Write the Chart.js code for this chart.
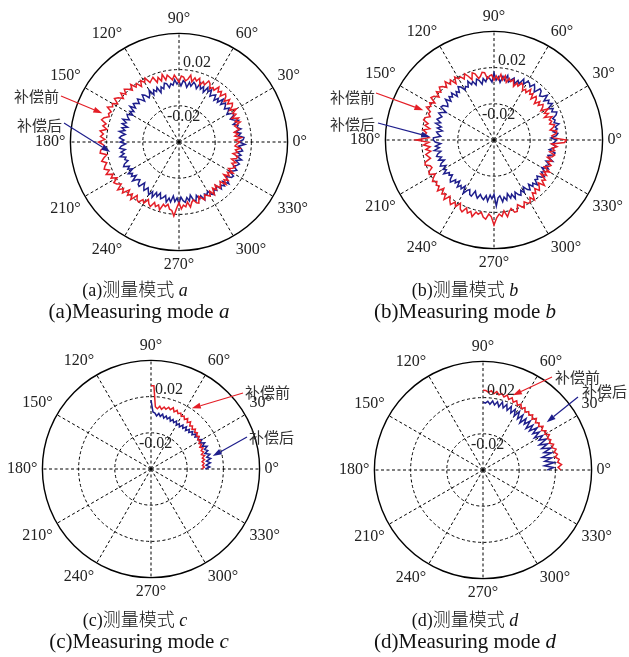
<!DOCTYPE html>
<html>
<head>
<meta charset="utf-8">
<script src="https://cdn.jsdelivr.net/npm/chart.js@4.4.1/dist/chart.umd.min.js"></script>
<style>
  html, body { margin: 0; padding: 0; background: #fff; }
  body { width: 629px; height: 657px; position: relative; overflow: hidden; }
  canvas { position: absolute; }
  .cap { position: absolute; width: 260px; text-align: center; color: #111; white-space: nowrap;
         font-family: "Liberation Serif", "Noto Sans CJK SC", serif; line-height: 1; }
  .zh { font-size: 18px; }
  .en { font-size: 21px; }
  .zh span { font-family: "Noto Sans CJK SC"; font-weight: 300; }
</style>
</head>
<body>
<canvas id="chartA" width="316" height="289" style="left:0px;top:-2px"></canvas>
<canvas id="chartB" width="317" height="289" style="left:314px;top:-4px"></canvas>
<canvas id="chartC" width="315" height="289" style="left:-1px;top:325px"></canvas>
<canvas id="chartD" width="315" height="289" style="left:314px;top:326px"></canvas>

<div class="cap zh" style="left:5px;top:279px">(a)<span>测量模式</span> <i>a</i></div>
<div class="cap en" style="left:9px;top:301px">(a)Measuring mode <i>a</i></div>
<div class="cap zh" style="left:335px;top:279px">(b)<span>测量模式</span> <i>b</i></div>
<div class="cap en" style="left:335px;top:301px">(b)Measuring mode <i>b</i></div>
<div class="cap zh" style="left:5px;top:609px">(c)<span>测量模式</span> <i>c</i></div>
<div class="cap en" style="left:9px;top:631px">(c)Measuring mode <i>c</i></div>
<div class="cap zh" style="left:335px;top:609px">(d)<span>测量模式</span> <i>d</i></div>
<div class="cap en" style="left:335px;top:631px">(d)Measuring mode <i>d</i></div>

<script>
// angle categories, every 2 degrees; index 0 sits at the top (90 deg) and the radar runs clockwise
const angleCats = Array.from({ length: 180 }, (_, i) => (450 - 2 * i) % 360);
const spokeAngles = [0, 30, 60, 90, 120, 150, 180, 210, 240, 270, 300, 330];
const ringMin = -0.06, ringMax = 0.06, ringStep = 0.04;
const ringLabels = [-0.02, 0.02];

// roundness error, one value per 2 deg starting at 0 deg (counter-clockwise)
const redA = [
  0.007, 0.002, 0.009, 0.002, 0.006, 0.002, 0.008, 0.006, 0.004, 0.011,
  0.006, 0.011, 0.004, 0.010, 0.007, 0.013, 0.006, 0.011, 0.013, 0.008,
  0.013, 0.007, 0.012, 0.014, 0.008, 0.013, 0.010, 0.015, 0.009, 0.011,
  0.008, 0.013, 0.015, 0.009, 0.012, 0.007, 0.014, 0.010, 0.013, 0.008,
  0.015, 0.010, 0.008, 0.012, 0.013, 0.006, 0.010, 0.014, 0.009, 0.012,
  0.015, 0.010, 0.017, 0.010, 0.015, 0.010, 0.017, 0.015, 0.013, 0.020,
  0.016, 0.020, 0.014, 0.020, 0.017, 0.023, 0.017, 0.021, 0.024, 0.019,
  0.024, 0.018, 0.023, 0.026, 0.020, 0.025, 0.023, 0.028, 0.022, 0.024,
  0.022, 0.027, 0.029, 0.023, 0.026, 0.021, 0.028, 0.024, 0.027, 0.022,
  0.029, 0.024, 0.022, 0.027, 0.028, 0.021, 0.025, 0.028, 0.023, 0.026,
  0.028, 0.023, 0.028, 0.021, 0.025, 0.019, 0.025, 0.023, 0.019, 0.026,
  0.020, 0.024, 0.016, 0.022, 0.017, 0.023, 0.015, 0.019, 0.020, 0.015,
  0.018, 0.012, 0.016, 0.018, 0.012, 0.016, 0.013, 0.018, 0.011, 0.013,
  0.010, 0.015, 0.016, 0.022, 0.013, 0.007, 0.014, 0.010, 0.012, 0.007,
  0.013, 0.008, 0.006, 0.010, 0.011, 0.004, 0.007, 0.010, 0.005, 0.007,
  0.009, 0.004, 0.010, 0.003, 0.007, 0.002, 0.008, 0.006, 0.003, 0.010,
  0.005, 0.009, 0.001, 0.007, 0.003, 0.009, 0.002, 0.006, 0.008, 0.003,
  0.007, 0.001, 0.006, 0.007, 0.001, 0.006, 0.003, 0.008, 0.002, 0.004
];
const blueA = [
  0.006, 0.011, 0.012, 0.006, 0.009, 0.003, 0.010, 0.006, 0.008, 0.003,
  0.010, 0.005, 0.002, 0.007, 0.008, 0.001, 0.004, 0.007, 0.002, 0.005,
  0.007, 0.002, 0.008, 0.001, 0.005, 0, 0.006, 0.004, 0.001, 0.008,
  0.004, 0.008, 0.001, 0.007, 0.003, 0.009, 0.002, 0.006, 0.008, 0.003,
  0.007, 0.001, 0.006, 0.008, 0.002, 0.007, 0.004, 0.009, 0.003, 0.005,
  0.001, 0.006, 0.007, 0.001, 0.004, -0.002, 0.005, 0.001, 0.004, -0.001,
  0.006, 0.001, -0.001, 0.004, 0.006, -0.001, 0.003, 0.006, 0.001, 0.004,
  0.006, 0.001, 0.007, 0, 0.004, -0.001, 0.005, 0.003, 0, 0.007,
  0.002, 0.006, -0.001, 0.005, 0.001, 0.007, 0, 0.004, 0.006, 0.001,
  0.005, -0.001, 0.004, 0.006, 0, 0.005, 0.002, 0.007, 0.001, 0.003,
  0, 0.005, 0.007, 0.001, 0.004, -0.001, 0.006, 0.002, 0.005, 0,
  0.007, 0.002, 0, 0.005, 0.006, -0.001, 0.003, 0.006, 0.001, 0.004,
  0.007, 0.002, 0.008, 0.001, 0.005, 0, 0.006, 0.004, 0.001, 0.008,
  0.003, 0.007, 0, 0.006, 0.002, 0.008, 0.001, 0.005, 0.007, 0.002,
  0.006, 0, 0.006, 0.008, 0.002, 0.007, 0.004, 0.010, 0.004, 0.006,
  0.003, 0.008, 0.010, 0.005, 0.008, 0.003, 0.010, 0.006, 0.010, 0.005,
  0.012, 0.007, 0.005, 0.010, 0.011, 0.004, 0.008, 0.011, 0.006, 0.009,
  0.011, 0.006, 0.012, 0.006, 0.010, 0.005, 0.011, 0.009, 0.006, 0.013
];
const redB = [
  0.020, 0.006, 0.004, 0.009, 0.010, 0.003, 0.007, 0.009, 0.004, 0.007,
  0.005, 0.009, 0.001, 0.007, 0.003, 0.009, 0.001, 0.005, 0.007, 0.002,
  0.006, 0, 0.005, 0.007, 0.001, 0.007, 0.004, 0.009, 0.003, 0.006,
  0.003, 0.008, 0.010, 0.005, 0.008, 0.003, 0.010, 0.007, 0.010, 0.005,
  0.012, 0.007, 0.013, 0.007, 0.011, 0.006, 0.012, 0.011, 0.008, 0.015,
  0.016, 0.012, 0.010, 0.016, 0.018, 0.011, 0.016, 0.020, 0.015, 0.019,
  0.018, 0.022, 0.015, 0.022, 0.018, 0.024, 0.018, 0.022, 0.024, 0.019,
  0.023, 0.017, 0.022, 0.024, 0.017, 0.022, 0.019, 0.023, 0.017, 0.018,
  0.015, 0.020, 0.021, 0.015, 0.018, 0.012, 0.019, 0.015, 0.017, 0.012,
  0.026, 0.012, 0.018, 0.011, 0.016, 0.011, 0.017, 0.015, 0.013, 0.020,
  0.021, 0.016, 0.015, 0.020, 0.021, 0.015, 0.019, 0.022, 0.018, 0.021,
  0.019, 0.024, 0.017, 0.023, 0.020, 0.026, 0.019, 0.023, 0.026, 0.021,
  0.025, 0.019, 0.025, 0.027, 0.021, 0.026, 0.023, 0.028, 0.022, 0.024,
  0.021, 0.026, 0.028, 0.022, 0.025, 0.034, 0.026, 0.022, 0.025, 0.019,
  0.026, 0.021, 0.018, 0.023, 0.023, 0.016, 0.019, 0.022, 0.016, 0.019,
  0.020, 0.015, 0.020, 0.012, 0.015, 0.010, 0.015, 0.012, 0.008, 0.015,
  0.009, 0.012, 0.004, 0.010, 0.005, 0.011, 0.003, 0.007, 0.009, 0.004,
  0.008, 0.002, 0.007, 0.009, 0.003, 0.008, 0.005, 0.010, 0.004, 0.018
];
const blueB = [
  0.009, 0.003, 0.009, 0.011, 0.006, 0.011, 0.009, 0.014, 0.009, 0.011,
  0.009, 0.014, 0.016, 0.011, 0.014, 0.009, 0.016, 0.012, 0.015, 0.010,
  0.017, 0.012, 0.010, 0.015, 0.016, 0.009, 0.013, 0.016, 0.011, 0.014,
  0.015, 0.010, 0.015, 0.008, 0.011, 0.006, 0.012, 0.009, 0.006, 0.013,
  0.007, 0.011, 0.004, 0.010, 0.006, 0.014, 0.004, 0.008, 0.010, 0.005,
  0.009, 0.003, 0.008, 0.010, 0.004, 0.009, 0.006, 0.011, 0.005, 0.007,
  0.004, 0.009, 0.011, 0.005, 0.008, 0.003, 0.010, 0.006, 0.009, 0.004,
  0.010, 0.005, 0.003, 0.008, 0.009, 0.001, 0.005, 0.008, 0.003, 0.005,
  0.007, 0.002, 0.007, 0, 0.004, -0.002, 0.004, 0.002, -0.001, 0.007,
  0.007, 0.005, -0.001, 0.005, 0.001, 0.007, 0, 0.004, 0.006, 0.001,
  0.005, -0.001, 0.004, 0.006, 0, 0.005, 0.002, 0.007, 0.001, 0.003,
  0, 0.005, 0.007, 0.001, 0.004, -0.001, 0.006, 0.002, 0.005, 0,
  0.008, 0.003, 0.001, 0.006, 0.007, 0, 0.004, 0.007, 0.002, 0.005,
  0.007, 0.002, 0.008, 0.001, 0.005, 0, 0.013, 0.004, 0.002, 0.009,
  0.004, 0.008, 0.001, 0.007, 0.003, 0.009, 0.002, 0.006, 0.008, 0.003,
  0.007, 0.001, 0.006, 0.008, 0.002, 0.007, 0.004, 0.009, 0.003, 0.005,
  0.002, 0.007, 0.009, 0.003, 0.006, 0.001, 0.008, 0.004, 0.007, 0.002,
  0.009, 0.004, 0.002, 0.008, 0.009, 0.002, 0.006, 0.009, 0.004, 0.007
];
// modes c and d only cover 0..90 deg
const redC = [
  -0.004, -0.001, -0.003, -0.001, -0.003, 0, -0.002, 0.001, -0.002, 0.001,
  -0.001, 0.002, -0.001, 0.002, 0, 0.003, 0.001, 0.004, 0.002, 0.005,
  0.003, 0.006, 0.003, 0.006, 0.004, 0.008, 0.005, 0.009, 0.006, 0.009,
  0.007, 0.010, 0.008, 0.011, 0.008, 0.012, 0.009, 0.011, 0.008, 0.010,
  0.007, 0.010, 0.007, 0.009, 0.032, 0.032
];
const blueC = [
  0, 0.005, 0.001, 0.006, 0.002, 0.007, 0.003, 0.007, 0.002, 0.006,
  0.003, 0.007, 0.002, 0.006, 0.001, 0.005, 0.001, 0.004, 0, 0.003,
  -0.001, 0.002, -0.002, 0.001, -0.003, 0.001, -0.003, 0, -0.004, -0.001,
  -0.004, 0, -0.003, 0, -0.003, 0.001, -0.002, 0.001, -0.002, 0.002,
  -0.001, 0.002, -0.001, 0.002, 0.003, 0.016
];
const redD = [
  0.026, 0.023, 0.027, 0.023, 0.025, 0.021, 0.024, 0.021, 0.024, 0.020,
  0.023, 0.019, 0.022, 0.019, 0.023, 0.019, 0.022, 0.018, 0.022, 0.018,
  0.021, 0.018, 0.022, 0.018, 0.022, 0.019, 0.022, 0.019, 0.023, 0.020,
  0.024, 0.021, 0.025, 0.022, 0.026, 0.023, 0.027, 0.024, 0.027, 0.025,
  0.028, 0.025, 0.028, 0.026, 0.028, 0.028
];
const blueD = [
  0.011, 0.018, 0.008, 0.019, 0.009, 0.017, 0.007, 0.018, 0.010, 0.019,
  0.009, 0.017, 0.008, 0.018, 0.010, 0.016, 0.007, 0.015, 0.008, 0.016,
  0.007, 0.014, 0.006, 0.015, 0.008, 0.014, 0.006, 0.015, 0.008, 0.016,
  0.009, 0.016, 0.010, 0.017, 0.011, 0.017, 0.012, 0.018, 0.012, 0.017,
  0.013, 0.017, 0.013, 0.016, 0.014, 0.015
];

const redColor = "#e41e26";
const blueColor = "#1e1e8c";
const serif = '"Liberation Serif", serif';

function byAngle(arr) {
  return angleCats.map(a => {
    let v = arr[a / 2];
    return v === undefined ? null : v;
  });
}

// arrows + labels, and the two ring values
const notesPlugin = {
  id: "notes",
  afterDatasetsDraw(chart, args, opts) {
    let r = chart.scales.r;
    let ctx = chart.ctx;
    ctx.save();

    ctx.font = "16px " + serif;
    ctx.fillStyle = "#222";
    ctx.textAlign = "left";
    ctx.textBaseline = "alphabetic";
    ringLabels.forEach(v => {
      let d = r.getDistanceFromCenterForValue(v);
      if (v > 0) ctx.fillText(v.toFixed(2), r.xCenter + 4, r.yCenter - d - 3);
      else ctx.fillText(v.toFixed(2), r.xCenter - 12, r.yCenter - d + 15);
    });

    (opts.items || []).forEach(n => {
      let d = r.getDistanceFromCenterForValue(n.value);
      let a = n.angle * Math.PI / 180;
      let tx = r.xCenter + d * Math.cos(a), ty = r.yCenter - d * Math.sin(a);
      let sx = r.xCenter + n.tail[0], sy = r.yCenter + n.tail[1];
      let ang = Math.atan2(ty - sy, tx - sx);
      let hl = 9, hw = 3;
      let bx = tx - hl * Math.cos(ang), by = ty - hl * Math.sin(ang);

      ctx.strokeStyle = n.color;
      ctx.fillStyle = n.color;
      ctx.lineWidth = 1.2;
      ctx.beginPath();
      ctx.moveTo(sx, sy);
      ctx.lineTo(bx, by);
      ctx.stroke();
      ctx.beginPath();
      ctx.moveTo(tx, ty);
      ctx.lineTo(bx + hw * Math.sin(ang), by - hw * Math.cos(ang));
      ctx.lineTo(bx - hw * Math.sin(ang), by + hw * Math.cos(ang));
      ctx.closePath();
      ctx.fill();

      ctx.fillStyle = "#333";
      ctx.font = '15px "Noto Sans CJK SC"';
      ctx.textAlign = n.align;
      ctx.textBaseline = "middle";
      ctx.fillText(n.text, r.xCenter + n.label[0], r.yCenter + n.label[1]);
    });
    ctx.restore();
  }
};

function makePolar(id, red, blue, notes, pad) {
  return new Chart(document.getElementById(id), {
    type: "radar",
    data: {
      labels: angleCats,
      datasets: [
        { label: "补偿前", data: byAngle(red), borderColor: redColor, borderWidth: 1.5,
          pointRadius: 0, fill: false, spanGaps: false, tension: 0 },
        { label: "补偿后", data: byAngle(blue), borderColor: blueColor, borderWidth: 1.5,
          pointRadius: 0, fill: false, spanGaps: false, tension: 0 }
      ]
    },
    options: {
      responsive: false,
      animation: false,
      events: [],
      layout: { padding: pad },
      plugins: {
        legend: { display: false },
        tooltip: { enabled: false },
        notes: { items: notes }
      },
      scales: {
        r: {
          min: ringMin,
          max: ringMax,
          ticks: { display: false, stepSize: ringStep },
          grid: {
            circular: true,
            color: "#000",
            lineWidth: c => (c.index === 3 ? 1.4 : 1)
          },
          border: { dash: c => (c.index === 3 ? [] : [3, 2.5]) },
          angleLines: {
            display: true,
            color: "#000",
            lineWidth: c => (spokeAngles.includes(angleCats[c.index]) ? 1 : 0),
            borderDash: [3, 2.5]
          },
          pointLabels: {
            display: true,
            padding: 5,
            color: "#222",
            font: { family: serif, size: 16 },
            callback: (lab) => (spokeAngles.includes(lab) ? lab + "°" : "")
          }
        }
      }
    },
    plugins: [notesPlugin]
  });
}

makePolar("chartA", redA, blueA, [
  { text: "补偿前", color: redColor, angle: 159.4, value: 0.0305, tail: [-118, -46], label: [-120, -46], align: "right" },
  { text: "补偿后", color: blueColor, angle: 188.2, value: 0.0167, tail: [-115, -19], label: [-117, -17], align: "right" }
], { left: 27, right: 0, top: 0, bottom: 0 });

makePolar("chartB", redB, blueB, [
  { text: "补偿前", color: redColor, angle: 157.1, value: 0.0247, tail: [-118, -47], label: [-119, -43], align: "right" },
  { text: "补偿后", color: blueColor, angle: 177.3, value: 0.0105, tail: [-116, -17], label: [-119, -16], align: "right" }
], { left: 28, right: 0, top: 0, bottom: 0 });

makePolar("chartC", redC, blueC, [
  { text: "补偿前", color: redColor, angle: 56.1, value: 0.0208, tail: [92, -76], label: [94, -77], align: "left" },
  { text: "补偿后", color: blueColor, angle: 11.8, value: 0.0097, tail: [96, -32], label: [98, -32], align: "left" }
], { left: 0, right: 26, top: 0, bottom: 0 });

makePolar("chartD", redD, blueD, [
  { text: "补偿前", color: redColor, angle: 68.2, value: 0.0289, tail: [69, -93], label: [72, -93], align: "left" },
  { text: "补偿后", color: blueColor, angle: 36.9, value: 0.028, tail: [95, -73], label: [99, -79], align: "left" }
], { left: 17, right: 9, top: 0, bottom: 0 });
</script>
</body>
</html>
